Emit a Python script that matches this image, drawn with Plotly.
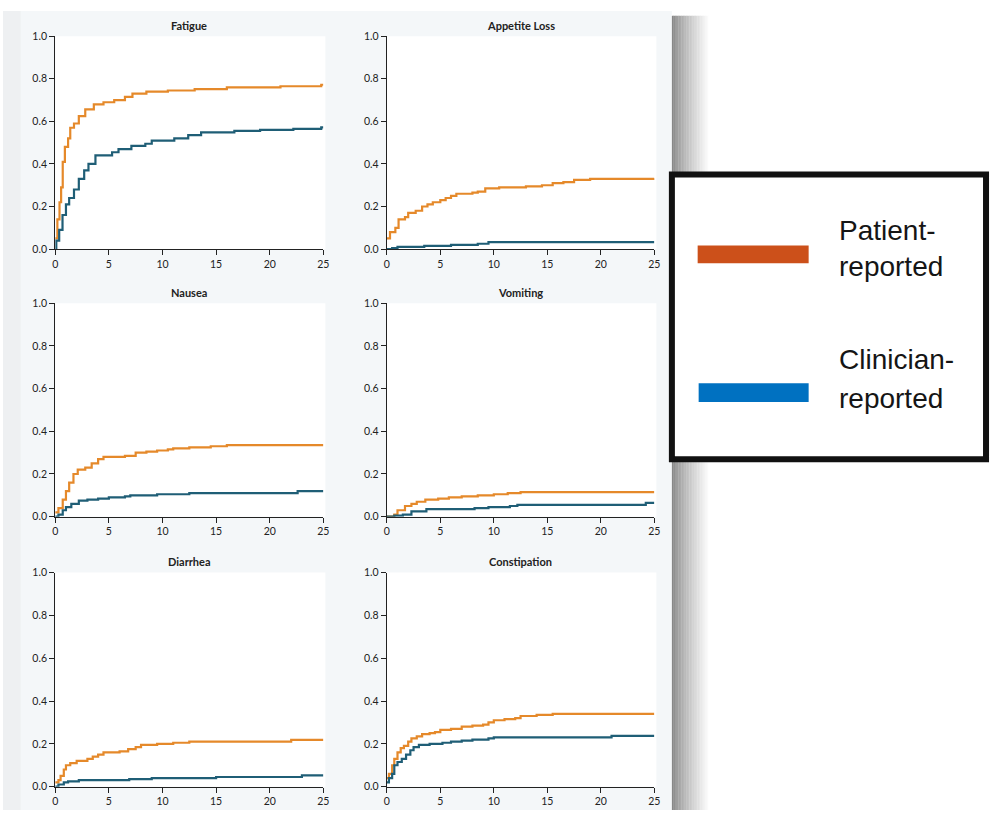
import plotly.graph_objects as go

# ---------------- data ----------------
panel_titles = ["Fatigue", "Appetite Loss", "Nausea", "Vomiting", "Diarrhea", "Constipation"]
x_ticks = [0, 5, 10, 15, 20, 25]
y_ticks = [0.0, 0.2, 0.4, 0.6, 0.8, 1.0]
series_names = ["Patient-reported", "Clinician-reported"]

fatigue_pat_t = [0, 0.2, 0.4, 0.55, 0.7, 0.9, 1.2, 1.4, 1.75, 2.2, 2.8, 3.6, 4.5, 5.5, 6.5, 7.2, 8.5, 10.5, 13, 16, 21, 24.8, 25]
fatigue_pat_v = [0.05, 0.14, 0.22, 0.29, 0.41, 0.48, 0.52, 0.57, 0.59, 0.625, 0.656, 0.68, 0.69, 0.70, 0.715, 0.73, 0.74, 0.745, 0.752, 0.76, 0.765, 0.772, 0.772]
fatigue_cli_t = [0, 0.1, 0.37, 0.68, 1.0, 1.3, 1.75, 2.2, 2.7, 3.1, 3.75, 5.3, 5.9, 7.1, 8.4, 9.0, 11.1, 12.4, 13.6, 16.7, 19.1, 22.2, 24.8, 25]
fatigue_cli_v = [0.0, 0.04, 0.09, 0.16, 0.21, 0.24, 0.28, 0.33, 0.37, 0.40, 0.44, 0.455, 0.47, 0.485, 0.495, 0.51, 0.52, 0.535, 0.548, 0.555, 0.56, 0.565, 0.572, 0.572]

appetite_pat_t = [0, 0.3, 0.8, 1.1, 1.7, 2.0, 2.7, 3.3, 3.8, 4.3, 5.0, 5.5, 6.0, 6.5, 8.0, 8.5, 9.2, 10.5, 13, 14.5, 15.5, 16.5, 17.5, 19, 25]
appetite_pat_v = [0.05, 0.08, 0.10, 0.14, 0.15, 0.17, 0.18, 0.20, 0.21, 0.22, 0.23, 0.24, 0.25, 0.26, 0.265, 0.27, 0.285, 0.29, 0.295, 0.30, 0.31, 0.315, 0.325, 0.33, 0.333]
appetite_cli_t = [0, 0.5, 1.0, 3.5, 6.0, 8.5, 9.5, 25]
appetite_cli_v = [0, 0.005, 0.01, 0.015, 0.02, 0.025, 0.033, 0.033]

nausea_pat_t = [0, 0.3, 0.7, 1.0, 1.3, 1.7, 2.1, 2.8, 3.4, 4.0, 4.5, 6.5, 7.5, 8.5, 9.5, 10.5, 11, 12.5, 14.5, 16, 25]
nausea_pat_v = [0.02, 0.04, 0.08, 0.12, 0.16, 0.20, 0.22, 0.23, 0.25, 0.27, 0.28, 0.285, 0.30, 0.305, 0.31, 0.315, 0.32, 0.325, 0.33, 0.335, 0.335]
nausea_cli_t = [0, 0.3, 0.7, 1.0, 1.5, 2.2, 3.0, 4.0, 5.0, 6.5, 7.0, 9.5, 12.5, 22.6, 25]
nausea_cli_v = [0, 0.01, 0.03, 0.045, 0.06, 0.075, 0.08, 0.085, 0.09, 0.095, 0.10, 0.105, 0.11, 0.12, 0.12]

vomiting_pat_t = [0, 0.7, 1.0, 1.7, 2.3, 2.8, 3.6, 4.8, 5.8, 7.0, 8.5, 10, 11.3, 12.5, 25]
vomiting_pat_v = [0, 0.01, 0.03, 0.05, 0.06, 0.07, 0.08, 0.085, 0.09, 0.095, 0.10, 0.105, 0.11, 0.115, 0.115]
vomiting_cli_t = [0, 0.7, 1.5, 2.3, 3.7, 8.2, 9.5, 11.5, 12.2, 24.2, 25]
vomiting_cli_v = [0, 0.005, 0.01, 0.025, 0.035, 0.04, 0.045, 0.05, 0.055, 0.065, 0.065]

diarrhea_pat_t = [0, 0.3, 0.5, 0.8, 1.0, 1.4, 2.0, 3.0, 3.5, 4.0, 4.5, 6.0, 6.8, 7.5, 8.0, 9.5, 11, 12.5, 22, 25]
diarrhea_pat_v = [0.02, 0.03, 0.05, 0.08, 0.10, 0.11, 0.12, 0.13, 0.14, 0.15, 0.16, 0.165, 0.175, 0.185, 0.195, 0.20, 0.205, 0.21, 0.218, 0.218]
diarrhea_cli_t = [0, 0.3, 0.8, 1.2, 2.2, 6.9, 9.0, 15, 23, 25]
diarrhea_cli_v = [0, 0.01, 0.02, 0.025, 0.03, 0.035, 0.04, 0.045, 0.053, 0.053]

constipation_pat_t = [0, 0.2, 0.5, 0.7, 1.0, 1.3, 1.6, 2.0, 2.3, 2.8, 3.3, 4.0, 4.5, 5.0, 6.0, 7.0, 8.0, 9.0, 9.5, 10, 11, 12, 12.5, 14, 15.5, 25]
constipation_pat_v = [0.04, 0.06, 0.10, 0.13, 0.16, 0.18, 0.19, 0.21, 0.225, 0.235, 0.245, 0.25, 0.255, 0.265, 0.27, 0.28, 0.285, 0.29, 0.30, 0.31, 0.315, 0.32, 0.33, 0.335, 0.34, 0.34]
constipation_cli_t = [0, 0.2, 0.5, 0.7, 1.0, 1.4, 1.8, 2.2, 2.5, 3.0, 4.0, 5.2, 6.0, 7.0, 8.0, 9.5, 10, 21, 25]
constipation_cli_v = [0.02, 0.04, 0.06, 0.10, 0.115, 0.13, 0.15, 0.17, 0.185, 0.195, 0.20, 0.205, 0.21, 0.215, 0.22, 0.225, 0.23, 0.237, 0.237]

panels = [
    (fatigue_pat_t, fatigue_pat_v, fatigue_cli_t, fatigue_cli_v),
    (appetite_pat_t, appetite_pat_v, appetite_cli_t, appetite_cli_v),
    (nausea_pat_t, nausea_pat_v, nausea_cli_t, nausea_cli_v),
    (vomiting_pat_t, vomiting_pat_v, vomiting_cli_t, vomiting_cli_v),
    (diarrhea_pat_t, diarrhea_pat_v, diarrhea_cli_t, diarrhea_cli_v),
    (constipation_pat_t, constipation_pat_v, constipation_cli_t, constipation_cli_v),
]

# ---------------- styling / layout ----------------
W, H = 995, 816
PAT_COLOR = "#E5892A"
CLI_COLOR = "#1F5E76"
LEG_PAT = "#CC501A"
LEG_CLI = "#0071C1"
PANEL_BG = "#F4F7F9"
TICK_FONT = dict(family="Lato, 'Open Sans', sans-serif", size=10.5, color="#222")

def px(x):
    return x / W

def py(y):
    return 1 - y / H

col_px = [(52.7, 323.3), (387.3, 657.3)]
row_px = [(30.7, 246.7), (301.7, 518.3), (575.0, 792.3)]

fig = go.Figure()
layout_axes = {}
annotations = []
shapes = []

# panel background and soft shadows
shapes.append(dict(type="rect", xref="paper", yref="paper", x0=px(0), x1=px(18), y0=py(816), y1=py(5),
                   fillcolor="#EEF0F2", line=dict(width=0), layer="below"))
shapes.append(dict(type="rect", xref="paper", yref="paper", x0=px(18), x1=px(675), y0=py(816), y1=py(5),
                   fillcolor=PANEL_BG, line=dict(width=0), layer="below"))
n_steps = 24
for k in range(n_steps):
    g = int(135 + (255 - 135) * (k / (n_steps - 1)) ** 0.8)
    shapes.append(dict(type="rect", xref="paper", yref="paper", x0=px(675 + k * 1.6), x1=px(675 + (k + 1) * 1.6 + 0.3),
                       y0=py(816), y1=py(10), fillcolor=f"rgb({g},{g},{g})", line=dict(width=0), layer="below"))

for i, (pt, pv, ct, cv) in enumerate(panels):
    r, c = divmod(i, 2)
    n = i + 1
    xa = "x" if n == 1 else f"x{n}"
    ya = "y" if n == 1 else f"y{n}"
    fig.add_trace(go.Scatter(x=pt, y=pv, mode="lines", line=dict(color=PAT_COLOR, width=2.2, shape="hv"),
                             name=series_names[0], showlegend=False, xaxis=xa, yaxis=ya))
    fig.add_trace(go.Scatter(x=ct, y=cv, mode="lines", line=dict(color=CLI_COLOR, width=2.2, shape="hv"),
                             name=series_names[1], showlegend=False, xaxis=xa, yaxis=ya))
    x0, x1 = col_px[c]
    y0, y1 = row_px[r]
    # white plotting area
    shapes.append(dict(type="rect", xref="paper", yref="paper", x0=px(x0), x1=px(x1 + 2), y0=py(y1), y1=py(y0),
                       fillcolor="white", line=dict(width=0), layer="below"))
    common = dict(showline=True, linecolor="#222", linewidth=1.2, ticks="outside", ticklen=5,
                  tickwidth=1, tickcolor="#222", showgrid=False, zeroline=False, tickfont=TICK_FONT,
                  fixedrange=True)
    layout_axes["xaxis" if n == 1 else f"xaxis{n}"] = dict(
        common, domain=[px(x0), px(x1)], range=[0, 25], tickvals=x_ticks, anchor=ya)
    layout_axes["yaxis" if n == 1 else f"yaxis{n}"] = dict(
        common, domain=[py(y1), py(y0)], range=[0, 1], tickvals=y_ticks, tickformat=".1f", anchor=xa)
    annotations.append(dict(text=f"<b>{panel_titles[i]}</b>", xref="paper", yref="paper",
                            x=px((x0 + x1) / 2), y=py(y0 - 11), xanchor="center", yanchor="middle",
                            showarrow=False, font=dict(family="Lato, 'Open Sans', sans-serif", size=11, color="#222")))

# legend box
shapes.append(dict(type="path", xref="paper", yref="paper",
                   path=("M {a},{b} L {c},{b} L {c},{d} L {a},{d} Z").format(a=px(675), b=py(171), c=px(992), d=py(460)),
                   fillcolor="white", line=dict(color="#111", width=6)))
shapes.append(dict(type="rect", xref="paper", yref="paper", x0=px(701), x1=px(813), y0=py(261), y1=py(243),
                   fillcolor=LEG_PAT, line=dict(width=0)))
shapes.append(dict(type="rect", xref="paper", yref="paper", x0=px(702), x1=px(813), y0=py(402), y1=py(383),
                   fillcolor=LEG_CLI, line=dict(width=0)))

leg_font = dict(family="Liberation Sans, Arial, sans-serif", size=28, color="#151515")
for txt, yc in [("Patient-", 228), ("reported", 264), ("Clinician-", 359), ("reported", 398)]:
    annotations.append(dict(text=txt, xref="paper", yref="paper", x=px(842), y=py(yc), xanchor="left",
                            yanchor="middle", showarrow=False, font=leg_font))

fig.update_layout(width=W, height=H, margin=dict(l=0, r=0, t=0, b=0), paper_bgcolor="white",
                  plot_bgcolor="rgba(0,0,0,0)", showlegend=False, shapes=shapes, annotations=annotations,
                  **layout_axes)

fig.write_html("out.html", config={"displayModeBar": False},
               post_script="document.body.style.margin='0';document.body.style.overflow='hidden';")
